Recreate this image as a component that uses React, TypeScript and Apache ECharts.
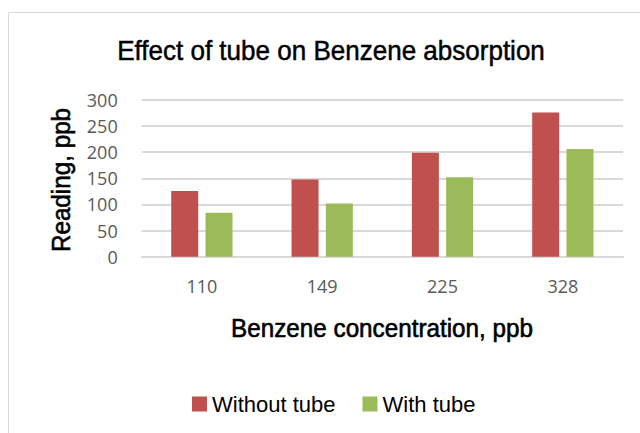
import React, { useEffect, useRef } from "react";
import * as echarts from "echarts";

const categories = ["110", "149", "225", "328"];
const withoutTube = [126, 148, 199, 276];
const withTube = [84, 102, 152, 206];
const seriesNames = ["Without tube", "With tube"];
const titleText = "Effect of tube on Benzene absorption";
const xName = "Benzene concentration, ppb";
const yName = "Reading, ppb";

const SANS = '"Liberation Sans", Arial, sans-serif';
const TICK = '"Open Sans", "Noto Sans", sans-serif';

export default function App() {
  const ref = useRef<HTMLDivElement>(null);
  useEffect(() => {
    if (!ref.current) return;
    const chart = echarts.init(ref.current, undefined, { renderer: "svg" });
    chart.setOption({
      animation: false,
      backgroundColor: "#ffffff",
      graphic: [
        {
          type: "rect",
          shape: { x: 8.5, y: 12.5, width: 700, height: 500 },
          style: { fill: "none", stroke: "#d9d9d9", lineWidth: 1 },
          silent: true,
        },
        {
          type: "text",
          x: 331,
          y: 51,
          scaleX: 0.93,
          style: {
            text: titleText,
            fontFamily: SANS,
            fontSize: 28,
            fill: "#000",
            align: "center",
            verticalAlign: "middle",
            stroke: "#000",
            lineWidth: 0.5,
          },
        },
        {
          type: "text",
          x: 382,
          y: 328,
          scaleX: 0.97,
          style: {
            text: xName,
            fontFamily: SANS,
            fontSize: 25,
            fill: "#000",
            align: "center",
            verticalAlign: "middle",
            stroke: "#000",
            lineWidth: 0.6,
          },
        },
        {
          type: "text",
          x: 61,
          y: 180,
          rotation: Math.PI / 2,
          scaleX: 0.97,
          style: {
            text: yName,
            fontFamily: SANS,
            fontSize: 25,
            fill: "#000",
            align: "center",
            verticalAlign: "middle",
            stroke: "#000",
            lineWidth: 0.6,
          },
        },
      ],
      legend: {
        left: 187,
        top: 388,
        itemWidth: 15,
        itemHeight: 15,
        itemGap: 27,
        icon: "rect",
        textStyle: { fontFamily: SANS, fontSize: 22, color: "#000" },
        data: seriesNames,
      },
      grid: { left: 141.7, right: 17, top: 100, bottom: 176.3, containLabel: false },
      xAxis: {
        type: "category",
        data: categories,
        axisLine: { show: true, lineStyle: { color: "#d9d9d9", width: 2 } },
        axisTick: { show: false },
        axisLabel: { fontFamily: TICK, fontSize: 18, color: "#595959", margin: 20 },
      },
      yAxis: {
        type: "value",
        min: 0,
        max: 300,
        interval: 50,
        axisLine: { show: false },
        axisTick: { show: false },
        splitLine: { lineStyle: { color: "#d9d9d9", width: 2 } },
        axisLabel: { fontFamily: TICK, fontSize: 18, color: "#595959", margin: 24 },
      },
      series: [
        {
          name: seriesNames[0],
          type: "bar",
          data: withoutTube,
          barWidth: 27,
          barGap: "27%",
          itemStyle: { color: "#C0504D" },
        },
        {
          name: seriesNames[1],
          type: "bar",
          data: withTube,
          barWidth: 27,
          barGap: "27%",
          itemStyle: { color: "#9BBB59" },
        },
      ],
    });
    return () => chart.dispose();
  }, []);
  return <div ref={ref} style={{ width: 640, height: 433, position: "absolute", left: 0, top: 0 }} />;
}
